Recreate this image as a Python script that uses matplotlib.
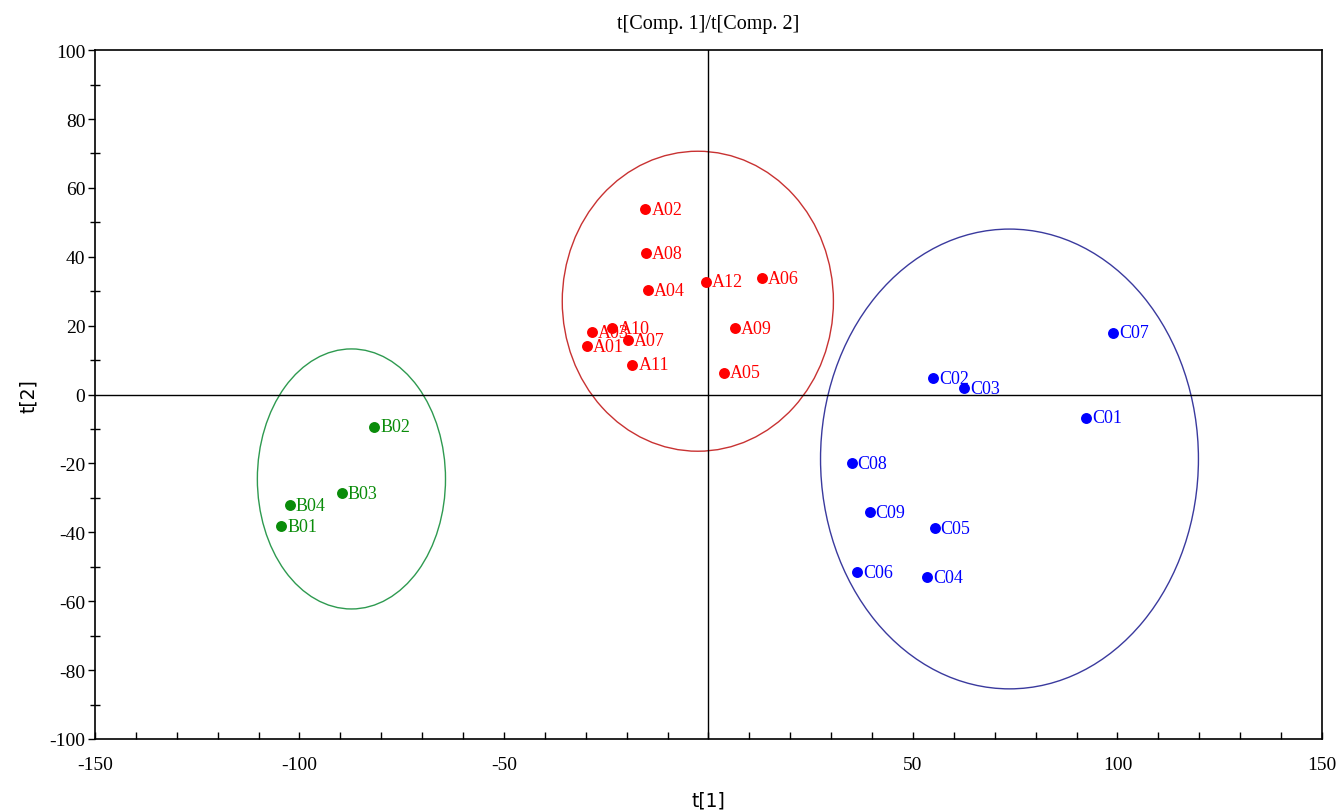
import numpy as np
import matplotlib.pyplot as plt
from matplotlib.patches import Ellipse
from matplotlib.ticker import MultipleLocator, FixedLocator

plt.rcParams['axes.unicode_minus'] = False

# score values
a_names = ['A01', 'A02', 'A03', 'A04', 'A05', 'A06', 'A07', 'A08', 'A09', 'A10', 'A11', 'A12']
a_t1 = [-29.8, -15.4, -28.4, -14.9, 3.7, 13.0, -19.6, -15.2, 6.4, -23.5, -18.6, -0.7]
a_t2 = [14.1, 53.8, 18.1, 30.3, 6.4, 33.8, 15.8, 41.1, 19.3, 19.3, 8.6, 32.7]

b_names = ['B01', 'B02', 'B03', 'B04']
b_t1 = [-104.4, -81.7, -89.7, -102.4]
b_t2 = [-38.2, -9.4, -28.6, -32.1]

c_names = ['C01', 'C02', 'C03', 'C04', 'C05', 'C06', 'C07', 'C08', 'C09']
c_t1 = [92.4, 55.0, 62.6, 53.5, 55.3, 36.4, 99.0, 35.0, 39.4]
c_t2 = [-6.7, 4.8, 1.9, -53.0, -38.8, -51.6, 17.9, -19.9, -34.1]

# confidence ellipses: center x, center y, width, height
ell_a = (-2.6, 27.1, 66.3, 87.1)
ell_b = (-87.3, -24.5, 46.0, 75.5)
ell_c = (73.6, -18.7, 92.4, 133.5)

serif = ['Liberation Serif', 'DejaVu Serif']

fig = plt.figure(figsize=(13.38, 8.12), dpi=100)
ax = fig.add_axes([0.071, 0.0887, 0.917, 0.8483])

groups = [
    (a_names, a_t1, a_t2, '#ff0000', '#c83232', ell_a),
    (b_names, b_t1, b_t2, '#0a8c0a', '#2e9a50', ell_b),
    (c_names, c_t1, c_t2, '#0000ff', '#3a3a9e', ell_c),
]
for names, xs, ys, col, ecol, ell in groups:
    ax.scatter(xs, ys, s=62, color=col, zorder=4, linewidths=0)
    for n, x, y in zip(names, xs, ys):
        # A03 label sits under A10, same as the original
        ax.annotate(n, (x, y), xytext=(6, 0), textcoords='offset pixels',
                    va='center', ha='left', color=col, fontsize=13, family=serif,
                    zorder=2 if n == 'A03' else 3)
    ax.add_patch(Ellipse((ell[0], ell[1]), ell[2], ell[3], fill=False,
                         edgecolor=ecol, linewidth=1.0))

ax.axhline(0, color='black', linewidth=1.0, zorder=1)
ax.axvline(0, color='black', linewidth=1.0, zorder=1)

ax.set_xlim(-150, 150)
ax.set_ylim(-100, 100)
ax.xaxis.set_major_locator(FixedLocator([-150, -100, -50, 50, 100, 150]))
ax.xaxis.set_minor_locator(MultipleLocator(10))
ax.yaxis.set_major_locator(MultipleLocator(20))
ax.yaxis.set_minor_locator(MultipleLocator(10))
ax.tick_params(axis='x', which='both', direction='in', length=5, width=1, labelsize=14, pad=12)
ax.tick_params(axis='y', which='major', direction='out', length=5, width=1, labelsize=14, pad=2)
ax.tick_params(axis='y', which='minor', direction='inout', length=7, width=1)
for lab in ax.get_xticklabels() + ax.get_yticklabels():
    lab.set_family(serif)

for sp in ax.spines.values():
    sp.set_linewidth(1.2)

ax.set_title('t[Comp. 1]/t[Comp. 2]', family=serif, fontsize=14.5, pad=16)
ax.set_xlabel('t[1]', fontsize=13.5, labelpad=13)
ax.set_ylabel('t[2]', fontsize=13.5, labelpad=8)

fig.savefig('out.png', dpi=100)
